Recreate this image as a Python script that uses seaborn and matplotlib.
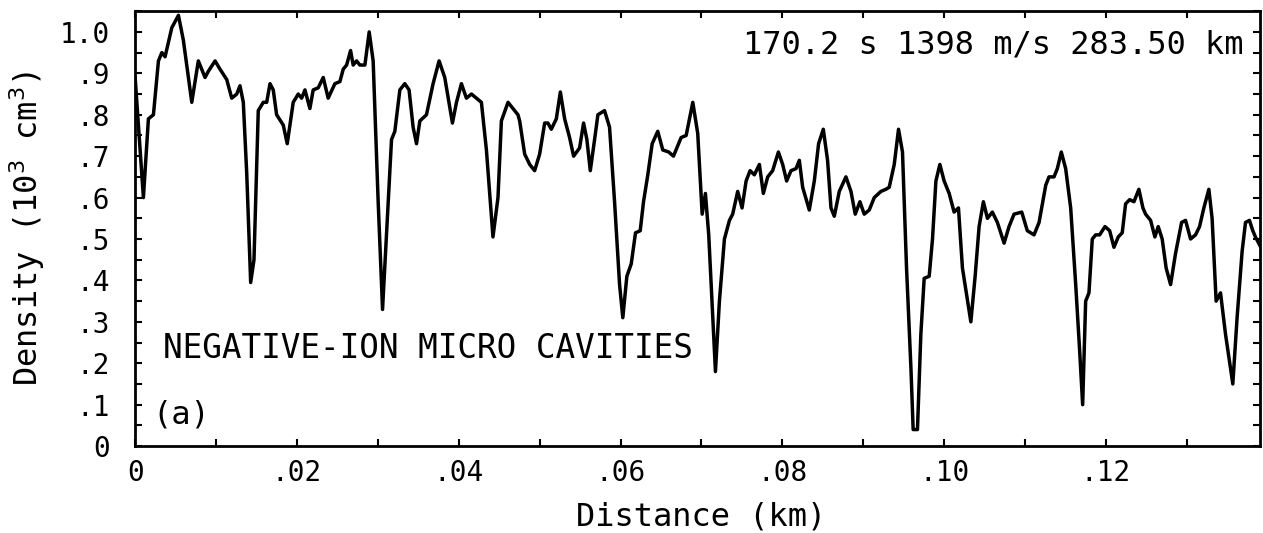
import numpy as np
import pandas as pd
import matplotlib
matplotlib.use("Agg")
import matplotlib.pyplot as plt
from matplotlib.ticker import MultipleLocator, FuncFormatter
import seaborn as sns

# distance along the track (km)
distance_km = [
    0.00000, 0.00102, 0.00164, 0.00226, 0.00288, 0.00330, 0.00370, 0.00453, 0.00535, 0.00596,
    0.00700, 0.00781, 0.00823, 0.00864, 0.00905, 0.00988, 0.01049, 0.01132, 0.01194, 0.01256,
    0.01296, 0.01337, 0.01379, 0.01428, 0.01469, 0.01522, 0.01584, 0.01626, 0.01667, 0.01707,
    0.01749, 0.01831, 0.01880, 0.01954, 0.02016, 0.02058, 0.02099, 0.02160, 0.02201, 0.02263,
    0.02325, 0.02386, 0.02469, 0.02531, 0.02572, 0.02614, 0.02663, 0.02695, 0.02737, 0.02778,
    0.02840, 0.02893, 0.02942, 0.03004, 0.03058, 0.03107, 0.03169, 0.03210, 0.03272, 0.03333,
    0.03386, 0.03436, 0.03478, 0.03519, 0.03601, 0.03683, 0.03757, 0.03827, 0.03922, 0.03972,
    0.04033, 0.04095, 0.04157, 0.04219, 0.04280, 0.04342, 0.04423, 0.04485, 0.04527, 0.04609,
    0.04670, 0.04732, 0.04753, 0.04815, 0.04877, 0.04938, 0.05000, 0.05062, 0.05102, 0.05144,
    0.05206, 0.05256, 0.05309, 0.05370, 0.05420, 0.05494, 0.05543, 0.05584, 0.05626, 0.05679,
    0.05720, 0.05802, 0.05864, 0.05926, 0.05988, 0.06028, 0.06078, 0.06132, 0.06185, 0.06243,
    0.06284, 0.06337, 0.06391, 0.06460, 0.06522, 0.06596, 0.06654, 0.06749, 0.06811, 0.06893,
    0.06954, 0.07009, 0.07049, 0.07090, 0.07173, 0.07222, 0.07284, 0.07346, 0.07386, 0.07448,
    0.07502, 0.07552, 0.07601, 0.07654, 0.07716, 0.07765, 0.07819, 0.07880, 0.07951, 0.08004,
    0.08053, 0.08107, 0.08169, 0.08210, 0.08251, 0.08333, 0.08395, 0.08448, 0.08506, 0.08559,
    0.08601, 0.08642, 0.08704, 0.08786, 0.08848, 0.08901, 0.08959, 0.09012, 0.09074, 0.09136,
    0.09219, 0.09280, 0.09321, 0.09383, 0.09436, 0.09485, 0.09535, 0.09589, 0.09617, 0.09670,
    0.09712, 0.09753, 0.09815, 0.09856, 0.09898, 0.09947, 0.10000, 0.10062, 0.10123, 0.10177,
    0.10226, 0.10330, 0.10383, 0.10432, 0.10485, 0.10535, 0.10596, 0.10658, 0.10741, 0.10802,
    0.10864, 0.10959, 0.11028, 0.11111, 0.11173, 0.11256, 0.11296, 0.11358, 0.11399, 0.11448,
    0.11502, 0.11564, 0.11626, 0.11675, 0.11712, 0.11749, 0.11790, 0.11831, 0.11873, 0.11922,
    0.11988, 0.12046, 0.12099, 0.12152, 0.12201, 0.12243, 0.12293, 0.12346, 0.12407, 0.12457,
    0.12490, 0.12552, 0.12605, 0.12646, 0.12695, 0.12744, 0.12799, 0.12860, 0.12935, 0.12984,
    0.13046, 0.13107, 0.13157, 0.13210, 0.13272, 0.13312, 0.13362, 0.13416, 0.13478, 0.13568,
    0.13621, 0.13683, 0.13725, 0.13774, 0.13815, 0.13848, 0.13914,
]

# negative-ion density (10^3 cm^-3)
density = [
    0.89, 0.60, 0.79, 0.80, 0.93, 0.95, 0.94, 1.01, 1.04, 0.98,
    0.83, 0.93, 0.91, 0.89, 0.905, 0.93, 0.91, 0.885, 0.84, 0.85,
    0.87, 0.83, 0.66, 0.395, 0.45, 0.81, 0.83, 0.83, 0.875, 0.86,
    0.80, 0.775, 0.73, 0.83, 0.85, 0.84, 0.86, 0.815, 0.86, 0.865,
    0.89, 0.84, 0.875, 0.88, 0.91, 0.92, 0.955, 0.92, 0.93, 0.92,
    0.92, 1.00, 0.93, 0.59, 0.33, 0.51, 0.74, 0.76, 0.86, 0.875,
    0.86, 0.77, 0.73, 0.785, 0.80, 0.875, 0.93, 0.89, 0.78, 0.83,
    0.875, 0.84, 0.85, 0.84, 0.83, 0.715, 0.505, 0.60, 0.785, 0.83,
    0.815, 0.80, 0.785, 0.705, 0.68, 0.665, 0.705, 0.78, 0.78, 0.765,
    0.79, 0.855, 0.79, 0.745, 0.70, 0.72, 0.78, 0.74, 0.665, 0.74,
    0.80, 0.81, 0.77, 0.59, 0.39, 0.31, 0.41, 0.44, 0.515, 0.52,
    0.59, 0.655, 0.73, 0.76, 0.715, 0.71, 0.70, 0.745, 0.75, 0.83,
    0.755, 0.56, 0.61, 0.51, 0.18, 0.35, 0.50, 0.545, 0.56, 0.615,
    0.575, 0.64, 0.665, 0.655, 0.68, 0.61, 0.65, 0.665, 0.71, 0.68,
    0.64, 0.665, 0.67, 0.69, 0.625, 0.57, 0.64, 0.73, 0.765, 0.69,
    0.575, 0.555, 0.615, 0.65, 0.615, 0.56, 0.59, 0.56, 0.57, 0.60,
    0.615, 0.62, 0.625, 0.68, 0.765, 0.71, 0.43, 0.19, 0.04, 0.04,
    0.27, 0.405, 0.41, 0.50, 0.64, 0.68, 0.64, 0.61, 0.565, 0.575,
    0.43, 0.30, 0.41, 0.53, 0.59, 0.55, 0.565, 0.54, 0.49, 0.53,
    0.56, 0.565, 0.52, 0.51, 0.54, 0.63, 0.65, 0.65, 0.67, 0.71,
    0.67, 0.575, 0.39, 0.23, 0.10, 0.35, 0.37, 0.50, 0.51, 0.51,
    0.53, 0.52, 0.48, 0.505, 0.515, 0.585, 0.595, 0.59, 0.62, 0.575,
    0.56, 0.545, 0.505, 0.53, 0.50, 0.43, 0.39, 0.465, 0.54, 0.545,
    0.50, 0.51, 0.53, 0.575, 0.62, 0.55, 0.35, 0.37, 0.27, 0.15,
    0.31, 0.47, 0.54, 0.545, 0.52, 0.505, 0.48,
]

header_text = "170.2 s 1398 m/s 283.50 km"
event_text = "NEGATIVE-ION MICRO CAVITIES"
panel_text = "(a)"

df = pd.DataFrame({"distance": distance_km, "density": density})

sns.set_style("ticks", {"axes.edgecolor": "black", "text.color": "black",
                        "axes.labelcolor": "black", "xtick.color": "black",
                        "ytick.color": "black"})
plt.rcParams['font.family'] = ['DejaVu Sans Mono', 'DejaVu Sans']

fig = plt.figure(figsize=(12.63, 5.33), dpi=100)
ax = fig.add_axes([0.107, 0.163, 0.891, 0.816])

sns.lineplot(ax=ax, data=df, x="distance", y="density", color="black",
             linewidth=2.5, sort=False, estimator=None)

ax.set_xlim(0, 0.1391)
ax.set_ylim(0, 1.05)

def strip_zero(v, pos, digits):
    if abs(v) < 1e-9:
        return "0"
    s = f"{v:.{digits}f}"
    return s[1:] if s.startswith("0.") else s

ax.xaxis.set_major_locator(MultipleLocator(0.02))
ax.xaxis.set_minor_locator(MultipleLocator(0.01))
ax.yaxis.set_major_locator(MultipleLocator(0.1))
ax.yaxis.set_minor_locator(MultipleLocator(0.05))
ax.xaxis.set_major_formatter(FuncFormatter(lambda v, p: strip_zero(v, p, 2)))
ax.yaxis.set_major_formatter(FuncFormatter(lambda v, p: strip_zero(v, p, 1)))

ax.tick_params(which="both", direction="in", top=True, right=True,
               length=5, width=1.5, labelsize=20, colors="black")
ax.tick_params(axis="x", which="major", pad=9)
ax.tick_params(axis="y", which="major", pad=18)
for s in ax.spines.values():
    s.set_linewidth(2)
    s.set_color("black")

ax.set_xlabel("Distance (km)", fontsize=23, color="black")
ax.set_ylabel("Density (10$^3$ cm$^3$)", fontsize=23, color="black")
ax.xaxis.set_label_coords(0.503, -0.128)
ax.yaxis.set_label_coords(-0.078, 0.5)

ax.text(0.137, 0.968, header_text, ha="right", va="center", fontsize=23, color="black")
ax.text(0.00345, 0.236, event_text, ha="left", va="center", fontsize=23.5, color="black")
ax.text(0.0021, 0.075, panel_text, ha="left", va="center", fontsize=23, color="black")

fig.savefig("out.png", dpi=100)
